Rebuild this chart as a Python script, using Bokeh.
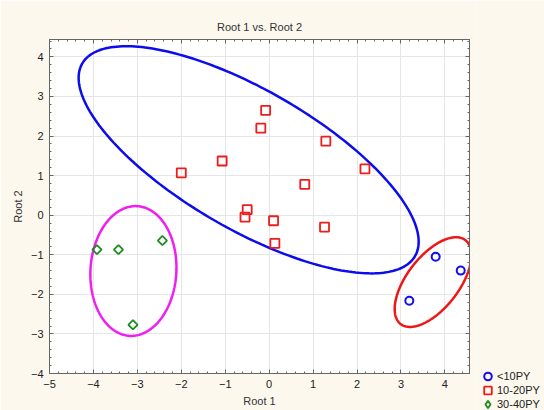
import numpy as np
from bokeh.plotting import figure
from bokeh.layouts import row, column
from bokeh.models import (LinearAxis, Legend, LegendItem, Range1d,
                          SingleIntervalTicker, CustomJSTickFormatter)
from bokeh.embed import file_html
from bokeh.resources import INLINE

# ---- data ----
lt10_x = [3.79, 4.36, 3.19]
lt10_y = [-1.05, -1.40, -2.16]

g10_20_x = [-0.08, -0.19, 1.29, -1.07, -2.00, 2.18, 0.81, -0.50, -0.55, 0.10, 1.26, 0.13]
g10_20_y = [2.65, 2.20, 1.87, 1.37, 1.07, 1.17, 0.78, 0.14, -0.05, -0.14, -0.30, -0.71]

g30_40_x = [-3.92, -3.43, -2.43, -3.10]
g30_40_y = [-0.87, -0.87, -0.64, -2.77]

# ellipses: centre, half-extents along x and y, phase shift
ellipse_cx = [-0.467, 3.73, -3.09]
ellipse_cy = [1.40, -1.69, -1.41]
ellipse_rx = [3.87, 0.873, 0.98]
ellipse_ry = [2.87, 1.133, 1.64]
ellipse_phase = [2.376, 0.927, 1.52]
ellipse_colors = ["#0c0cee", "#ee1616", "#f01ef0"]

legend_labels = ["<10PY", "10-20PY", "30-40PY"]

FONT = "Liberation Sans"
CREAM = "#fcf8ee"
BLUE, RED, GREEN = "#1010ee", "#ee1c1c", "#1e8c1e"

p = figure(width=476, height=410,
           x_range=Range1d(-5, 4.56), y_range=Range1d(-4, 4.44),
           output_backend="svg", toolbar_location=None,
           title="Root 1 vs. Root 2",
           min_border_left=49, min_border_right=7,
           min_border_top=39, min_border_bottom=37,
           background_fill_color="white", border_fill_color=CREAM,
           outline_line_color="#666666")

p.title.text_font = FONT
p.title.text_font_size = "11px"
p.title.text_font_style = "normal"
p.title.text_color = "#333333"
p.title.align = "center"
p.title.standoff = 13

xt = SingleIntervalTicker(interval=1, num_minor_ticks=5)
yt = SingleIntervalTicker(interval=1, num_minor_ticks=5)

p.below[0].ticker = xt
p.left[0].ticker = yt
p.xgrid.ticker = xt
p.ygrid.ticker = yt
p.grid.grid_line_color = "#e6e6e6"
p.grid.grid_line_width = 1

blank = CustomJSTickFormatter(code="return ''")
p.add_layout(LinearAxis(ticker=xt, formatter=blank, major_label_standoff=0), "above")
p.add_layout(LinearAxis(ticker=yt, formatter=blank, major_label_standoff=0), "right")

for ax in p.axis:
    ax.axis_line_color = "#666666"
    ax.major_tick_in = 4
    ax.major_tick_out = 0
    ax.minor_tick_in = 2
    ax.minor_tick_out = 0
    ax.major_tick_line_color = "#666666"
    ax.minor_tick_line_color = "#666666"
    ax.major_label_text_font = FONT
    ax.major_label_text_font_size = "11px"
    ax.major_label_text_color = "#222222"
    ax.axis_label_text_font = FONT
    ax.axis_label_text_font_size = "11px"
    ax.axis_label_text_font_style = "normal"
    ax.axis_label_text_color = "#333333"

p.below[0].axis_label = "Root 1"
p.left[0].axis_label = "Root 2"
p.below[0].major_label_standoff = 6
p.below[0].axis_label_standoff = 4
p.left[0].major_label_standoff = 6
p.left[0].axis_label_standoff = 4

# ellipses
t = np.linspace(0, 2 * np.pi, 241)
for cx, cy, rx, ry, ph, col in zip(ellipse_cx, ellipse_cy, ellipse_rx,
                                   ellipse_ry, ellipse_phase, ellipse_colors):
    p.line(cx + rx * np.cos(t), cy + ry * np.cos(t - ph),
           line_color=col, line_width=2.5)

p.scatter(lt10_x, lt10_y, marker="circle", size=8, fill_color=None,
          line_color=BLUE, line_width=2)
p.scatter(g10_20_x, g10_20_y, marker="square", size=9, fill_color=None,
          line_color=RED, line_width=1.8)
p.scatter(g30_40_x, g30_40_y, marker="square", angle=np.pi / 4, size=6.5,
          fill_color=None, line_color=GREEN, line_width=1.8)

# ---- legend panel (to the right of / below the plot frame) ----
lg = figure(width=68, height=410, x_range=Range1d(100, 101),
            y_range=Range1d(100, 101), x_axis_type=None, y_axis_type=None,
            output_backend="svg", toolbar_location=None, min_border=0,
            background_fill_color=CREAM, border_fill_color=CREAM,
            outline_line_color=None)
# proxy renderers (same series, outside this panel's view) for the legend keys
k1 = lg.scatter(lt10_x, lt10_y, marker="circle", fill_color=None,
                line_color=BLUE, line_width=2)
k2 = lg.scatter(g10_20_x, g10_20_y, marker="square", fill_color=None,
                line_color=RED, line_width=1.8)
k3 = lg.scatter(g30_40_x, g30_40_y, marker="diamond", fill_color=None,
                line_color=GREEN, line_width=1.8)

for lab, rend, vy in zip(legend_labels, [k1, k2, k3], [24, 10, -4]):
    leg = Legend(items=[LegendItem(label=lab, renderers=[rend])],
                 location=(2, vy), padding=0, margin=0, spacing=0,
                 glyph_width=19, glyph_height=20, label_height=14,
                 label_standoff=0,
                 label_text_font=FONT, label_text_font_size="11px",
                 label_text_color="#222222",
                 background_fill_alpha=0, border_line_color=None)
    lg.add_layout(leg)

layout = row(p, column(lg, spacing=0), spacing=0)
open("out.html", "w").write(file_html(layout, INLINE))
